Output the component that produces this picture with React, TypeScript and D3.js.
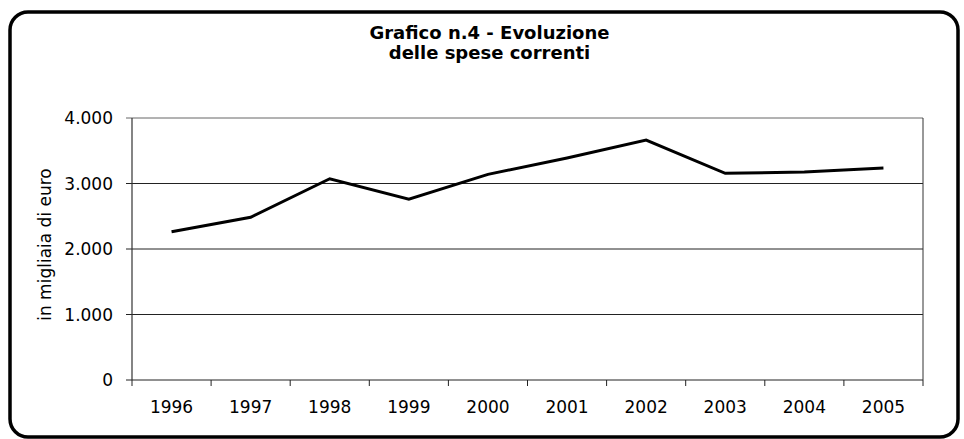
import React from "react";
import * as d3 from "d3";

const years = ["1996", "1997", "1998", "1999", "2000", "2001", "2002", "2003", "2004", "2005"];
const spese = [2264, 2484, 3073, 2759, 3140, 3389, 3664, 3155, 3176, 3237];
const yTicks = [0, 1000, 2000, 3000, 4000];
const titleLines = ["Grafico n.4 - Evoluzione", "delle spese correnti"];
const yLabel = "in migliaia di euro";

const W = 964;
const H = 439;
const left = 132;
const right = 923;
const top = 118;
const bottom = 380;

export default function App() {
  const x = d3.scaleBand<string>().domain(years).range([left, right]).padding(0);
  const y = d3.scaleLinear().domain([0, 4000]).range([bottom, top]);
  const line = d3
    .line<number>()
    .x((_, i) => (x(years[i]) as number) + x.bandwidth() / 2)
    .y((d) => y(d));
  const fmt = (v: number) => d3.format(",")(v).replace(/,/g, ".");
  const font = "'DejaVu Sans', Verdana, sans-serif";

  return (
    <svg
      width={W}
      height={H}
      style={{ position: "absolute", left: 0, top: 0, background: "#fff" }}
      fontFamily={font}
    >
      <rect x={10} y={12} width={948} height={425} rx={18} fill="none" stroke="#000" strokeWidth={3.5} />
      {titleLines.map((t, i) => (
        <text key={t} x={489.5} y={38.5 + i * 20.5} textAnchor="middle" fontWeight="bold" fontSize={18} fill="#000">
          {t}
        </text>
      ))}
      {/* gridlines */}
      {yTicks.map((v) => (
        <line key={v} x1={left - 6} x2={right} y1={y(v)} y2={y(v)} stroke={v === 4000 ? "#666" : "#222"} strokeWidth={1} />
      ))}
      {/* plot frame right & left */}
      <line x1={right} x2={right} y1={top} y2={bottom} stroke="#333" strokeWidth={1} />
      <line x1={left} x2={left} y1={top} y2={bottom} stroke="#333" strokeWidth={1.2} />
      {/* x ticks */}
      {years.map((yr) => (
        <line
          key={"t" + yr}
          x1={x(yr) as number}
          x2={x(yr) as number}
          y1={bottom}
          y2={bottom + 6}
          stroke="#222"
          strokeWidth={1}
        />
      ))}
      <line x1={right} x2={right} y1={bottom} y2={bottom + 6} stroke="#222" strokeWidth={1} />
      {/* y tick labels */}
      {yTicks.map((v) => (
        <text key={"l" + v} x={113} y={y(v) + 6} textAnchor="end" fontSize={17} fill="#000">
          {fmt(v)}
        </text>
      ))}
      {/* x labels */}
      {years.map((yr) => (
        <text key={"x" + yr} x={(x(yr) as number) + x.bandwidth() / 2} y={413} textAnchor="middle" fontSize={17} fill="#000">
          {yr}
        </text>
      ))}
      <text
        transform={`translate(51,${244.5}) rotate(-90)`}
        textAnchor="middle"
        fontSize={17}
        fill="#000"
      >
        {yLabel}
      </text>
      <path d={line(spese) as string} fill="none" stroke="#000" strokeWidth={3} strokeLinejoin="miter" />
    </svg>
  );
}
